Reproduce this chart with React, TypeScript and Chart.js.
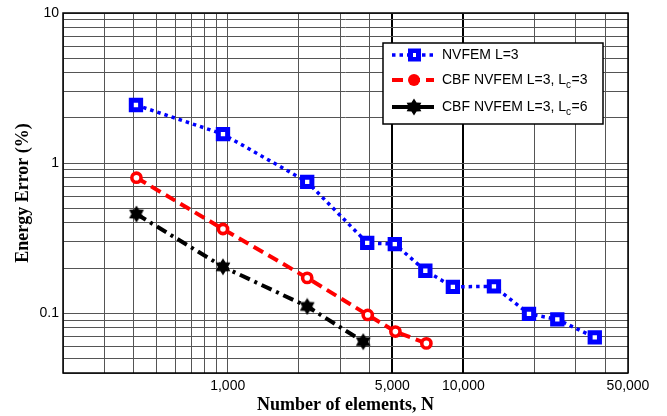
import React, { useEffect, useRef } from 'react';
import { Chart, registerables } from 'chart.js';
Chart.register(...registerables);

// ---- data ----
const nvfemN = [408, 955, 2175, 3910, 5120, 6900, 9030, 13490, 19000, 25060, 36140];
const nvfemErr = [2.44, 1.56, 0.75, 0.294, 0.289, 0.192, 0.15, 0.151, 0.099, 0.091, 0.069];
const cbf3N = [410, 955, 2175, 3930, 5150, 6970];
const cbf3Err = [0.8, 0.364, 0.172, 0.0975, 0.0755, 0.063];
const cbf6N = [410, 955, 2175, 3760];
const cbf6Err = [0.458, 0.204, 0.111, 0.0647];

const xGridValues = [200, 300, 400, 500, 600, 700, 800, 900, 1000, 2000, 3000, 4000, 5000, 10000, 20000, 30000, 40000, 50000];
const xLabelValues = [1000, 5000, 10000, 50000];
const xBoldValues = [5000, 10000];
const yGridValues = [0.04, 0.05, 0.06, 0.07, 0.08, 0.09, 0.1, 0.2, 0.3, 0.4, 0.5, 0.6, 0.7, 0.8, 0.9, 1, 2, 3, 4, 5, 6, 7, 8, 9, 10];
const yLabelValues = [0.1, 1, 10];

const legendLabels: string[][] = [
  ['NVFEM L=3'],
  ['CBF NVFEM L=3, L', 'c', '=3'],
  ['CBF NVFEM L=3, L', 'c', '=6'],
];

function makeStar(size: number, color: string) {
  const c = document.createElement('canvas');
  c.width = size;
  c.height = size;
  const ctx = c.getContext('2d')!;
  const cx = size / 2, cy = size / 2;
  const R = size / 2 - 0.5, r = R * 0.6;
  ctx.beginPath();
  for (let i = 0; i < 12; i++) {
    const a = -Math.PI / 2 + (i * Math.PI) / 6;
    const rr = i % 2 === 0 ? R : r;
    const px = cx + rr * Math.cos(a), py = cy + rr * Math.sin(a);
    if (i === 0) ctx.moveTo(px, py); else ctx.lineTo(px, py);
  }
  ctx.closePath();
  ctx.fillStyle = color;
  ctx.fill();
  return c;
}

export default function App() {
  const ref = useRef<HTMLCanvasElement>(null);
  useEffect(() => {
    document.body.style.margin = '0';
    const star = makeStar(18, '#000');
    const sans = '"Liberation Sans", Arial, sans-serif';
    const serif = '"Liberation Serif", "Times New Roman", serif';

    const frame = {
      id: 'frame',
      afterDraw(chart: any) {
        const { ctx, chartArea: a } = chart;
        ctx.save();
        ctx.strokeStyle = '#000';
        ctx.lineWidth = 1.5;
        ctx.strokeRect(a.left, a.top, a.right - a.left, a.bottom - a.top);
        ctx.restore();
        // legend
        const bx = 383, by = 43, bw = 220, bh = 81;
        ctx.save();
        ctx.fillStyle = '#fff';
        ctx.fillRect(bx, by, bw, bh);
        ctx.strokeStyle = '#000';
        ctx.lineWidth = 1.5;
        ctx.strokeRect(bx, by, bw, bh);
        const rows = [55, 80, 107];
        chart.data.datasets.forEach((ds: any, i: number) => {
          const y = rows[i];
          ctx.save();
          ctx.strokeStyle = ds.borderColor;
          ctx.lineWidth = ds.borderWidth;
          ctx.setLineDash(i === 2 ? [] : ds.borderDash);
          ctx.beginPath();
          ctx.moveTo(392, y);
          ctx.lineTo(434, y);
          ctx.stroke();
          ctx.restore();
          ctx.save();
          ctx.setLineDash([]);
          if (i === 0) {
            ctx.fillStyle = ds.borderColor;
            ctx.fillRect(408, y - 6.5, 13, 13);
            ctx.fillStyle = '#fff';
            ctx.fillRect(413, y - 2, 3, 4);
          } else if (i === 1) {
            ctx.fillStyle = ds.borderColor;
            ctx.beginPath();
            ctx.arc(414, y, 6, 0, Math.PI * 2);
            ctx.fill();
          } else {
            ctx.drawImage(star, 414 - 9, y - 9);
          }
          ctx.restore();
          // text
          const parts = legendLabels[i];
          let x = 442;
          ctx.fillStyle = '#000';
          ctx.textBaseline = 'middle';
          ctx.textAlign = 'left';
          parts.forEach((p, k) => {
            const sub = k === 1;
            ctx.font = (sub ? '10px ' : '14px ') + sans;
            ctx.fillText(p, x, sub ? y + 5 : y);
            x += ctx.measureText(p).width + (sub ? 0.5 : 0);
          });
        });
        ctx.restore();
      },
    };

    const chart = new Chart(ref.current!, {
      type: 'line',
      data: {
        datasets: [
          {
            label: 'NVFEM L=3',
            data: nvfemN.map((x, i) => ({ x, y: nvfemErr[i] })),
            borderColor: '#0000ff',
            backgroundColor: '#ffffff',
            borderWidth: 3.5,
            borderDash: [3.5, 4],
            pointStyle: 'rect',
            pointRadius: 6.6,
            pointBorderWidth: 5,
            pointBackgroundColor: '#ffffff',
            pointBorderColor: '#0000ff',
          },
          {
            label: 'CBF NVFEM L=3, Lc=3',
            data: cbf3N.map((x, i) => ({ x, y: cbf3Err[i] })),
            borderColor: '#ff0000',
            backgroundColor: '#ffffff',
            borderWidth: 4,
            borderDash: [11, 6],
            pointStyle: 'circle',
            pointRadius: 4.6,
            pointBorderWidth: 3.6,
            pointBackgroundColor: '#ffffff',
            pointBorderColor: '#ff0000',
          },
          {
            label: 'CBF NVFEM L=3, Lc=6',
            data: cbf6N.map((x, i) => ({ x, y: cbf6Err[i] })),
            borderColor: '#000000',
            backgroundColor: '#000000',
            borderWidth: 4,
            borderDash: [11, 5, 3, 5],
            pointStyle: star as any,
            pointRadius: 9,
          },
        ],
      },
      options: {
        animation: false,
        responsive: false,
        parsing: false as any,
        layout: { padding: { top: 12, right: 39, left: 0, bottom: 0 } },
        plugins: { legend: { display: false }, tooltip: { enabled: false } },
        elements: { line: { tension: 0 } },
        scales: {
          x: {
            type: 'logarithmic',
            min: 200,
            max: 50000,
            border: { display: false },
            afterFit: (s: any) => { s.height = 43; },
            afterBuildTicks: (s: any) => { s.ticks = xGridValues.map((v) => ({ value: v })); },
            grid: {
              drawTicks: false,
              color: (c: any) => (xBoldValues.includes(c.tick?.value) ? '#000' : '#555'),
              lineWidth: (c: any) => (xBoldValues.includes(c.tick?.value) ? 2 : 1),
            },
            ticks: {
              autoSkip: false,
              maxRotation: 0,
              padding: 5,
              color: '#000',
              font: { family: sans, size: 14 },
              callback: (v: any) => (xLabelValues.includes(Number(v)) ? Number(v).toLocaleString('en-US') : ''),
            },
            title: {
              display: true,
              text: 'Number of elements, N',
              color: '#000',
              font: { family: serif, size: 18, weight: 'bold' },
              padding: { top: 0, bottom: 0 },
            },
          },
          y: {
            type: 'logarithmic',
            min: 0.04,
            max: 10,
            border: { display: false },
            afterFit: (s: any) => { s.width = 63; },
            afterBuildTicks: (s: any) => { s.ticks = yGridValues.map((v) => ({ value: v })); },
            grid: { drawTicks: false, color: '#555', lineWidth: 1 },
            ticks: {
              autoSkip: false,
              padding: 4,
              color: '#000',
              font: { family: sans, size: 14 },
              callback: (v: any) => (yLabelValues.includes(Number(v)) ? String(Number(v)) : ''),
            },
            title: {
              display: true,
              text: 'Energy Error (%)',
              color: '#000',
              font: { family: serif, size: 18, weight: 'bold' },
              padding: { top: 13, bottom: 0 },
            },
          },
        },
      },
      plugins: [frame],
    });
    return () => chart.destroy();
  }, []);
  return (
    <div style={{ width: 667, height: 416 }}>
      <canvas ref={ref} width={667} height={416} />
    </div>
  );
}
